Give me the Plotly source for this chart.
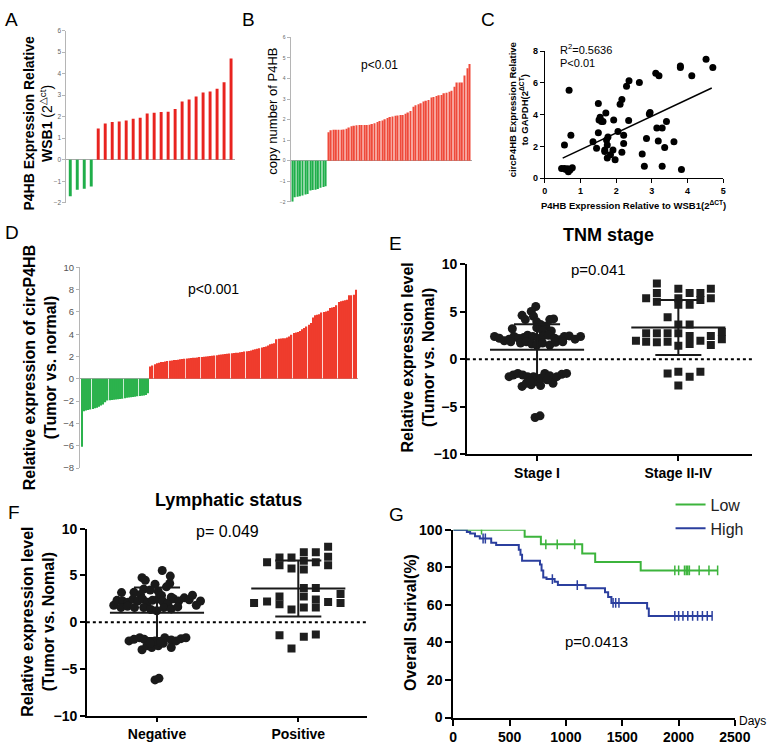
import numpy as np
import plotly.graph_objects as go

W, H = 784, 752
FONT = "Liberation Sans, Arial, Helvetica, sans-serif"
RED_A = "#e8231f"
RED_B = "#ef4a3a"
RED_D = "#ef3b2c"
GREEN_A = "#1fae4a"
GREEN_D = "#2bb24c"
KM_GREEN = "#3cb43c"
KM_BLUE = "#2b3f9e"

# ---------------- Panel A ----------------
a_green = [-1.7, -1.4, -1.35, -1.25]
a_red = [1.45, 1.68, 1.75, 1.77, 1.82, 1.9, 1.95, 2.15, 2.18, 2.22, 2.23, 2.35,
         2.7, 2.8, 2.93, 3.12, 3.17, 3.3, 3.6, 4.7]
a_yticks = [-2, -1, 0, 1, 2, 3, 4, 5, 6]

# ---------------- Panel B ----------------
b_green = [-2.0, -1.78, -1.75, -1.73, -1.7, -1.65, -1.62, -1.45, -1.43, -1.42,
           -1.38, -1.32, -1.28, -1.25]
b_red = [1.38, 1.48, 1.5, 1.5, 1.5, 1.5, 1.52, 1.55, 1.62, 1.68, 1.7, 1.72, 1.73,
         1.73, 1.73, 1.74, 1.75, 1.78, 1.82, 1.88, 1.93, 1.95, 2.02, 2.08, 2.12,
         2.15, 2.18, 2.2, 2.22, 2.22, 2.28, 2.35, 2.42, 2.62, 2.7, 2.75, 2.8, 2.88,
         2.92, 2.95, 3.08, 3.1, 3.15, 3.18, 3.2, 3.28, 3.3, 3.35, 3.4, 3.6, 3.8,
         3.8, 3.8, 4.15, 4.5, 4.7]
b_yticks = [-2, -1, 0, 1, 2, 3, 4, 5, 6]

# ---------------- Panel C ----------------
c_x = [0.47, 0.55, 0.59, 0.64, 0.66, 0.71, 0.77, 0.55, 0.68, 0.73, 1.35, 1.45,
       1.50, 1.50, 1.52, 1.55, 1.59, 1.63, 1.68, 1.68, 1.71, 1.73, 1.75, 1.77,
       1.75, 1.84, 1.91, 1.93, 1.97, 2.05, 2.11, 2.16, 2.16, 2.21, 2.21, 2.29,
       2.36, 2.35, 2.65, 2.73, 2.79, 2.85, 2.93, 2.95, 3.11, 3.20, 3.14, 3.18,
       3.29, 3.29, 3.36, 3.41, 3.62, 3.80, 3.80, 3.83, 4.12, 4.52, 4.71]
c_y = [0.62, 0.62, 0.55, 0.60, 0.41, 0.53, 0.66, 2.09, 5.54, 2.71, 2.30, 1.89,
       4.70, 2.87, 3.67, 3.84, 3.57, 3.57, 1.78, 1.68, 4.10, 2.40, 2.09, 2.60,
       1.27, 1.48, 1.78, 3.67, 1.17, 2.95, 4.66, 4.96, 1.64, 2.71, 2.19, 5.78,
       6.13, 3.63, 6.03, 1.52, 0.76, 2.50, 4.04, 4.14, 6.60, 6.44, 3.16, 2.34,
       3.16, 0.76, 1.93, 3.57, 2.30, 6.97, 7.06, 0.55, 6.44, 7.49, 6.97]
# regression line parameters (slope, intercept, x-span)
c_fit_slope = 1.055
c_fit_intercept = 0.74
c_fit_span = [0.5, 4.68]
c_xticks = [0, 1, 2, 3, 4, 5]
c_yticks = [0, 2, 4, 6, 8]

# ---------------- Panel D ----------------
d_green = [-6.1, -2.9, -2.85, -2.8, -2.75, -2.7, -2.65, -2.6, -2.5, -2.4, -2.3,
           -2.1, -1.95, -1.92, -1.9, -1.88, -1.85, -1.83, -1.8, -1.78, -1.75,
           -1.7, -1.68, -1.65, -1.62, -1.6, -1.57, -1.55, -1.52, -1.5, -1.45, -1.3]
d_red = [1.1, 1.2, 1.3, 1.4, 1.45, 1.5, 1.52, 1.55, 1.6, 1.62, 1.65, 1.68, 1.7,
         1.72, 1.75, 1.78, 1.8, 1.82, 1.85, 1.87, 1.9, 1.9, 1.92, 1.95, 1.95,
         1.97, 2.0, 2.02, 2.05, 2.08, 2.1, 2.12, 2.15, 2.18, 2.2, 2.22, 2.25,
         2.28, 2.3, 2.32, 2.33, 2.35, 2.38, 2.4, 2.45, 2.48, 2.5, 2.55, 2.6,
         2.65, 2.7, 2.75, 2.8, 2.85, 2.9, 3.0, 3.1, 3.15, 3.2, 3.55, 3.6, 3.62,
         3.65, 3.65, 3.7, 3.8, 3.95, 4.1, 4.15, 4.2, 4.3, 4.45, 4.55, 4.7, 4.85,
         5.0, 5.5, 5.7, 5.75, 5.8, 5.95, 6.0, 6.05, 6.1, 6.35, 6.4, 6.45, 6.6,
         6.9, 6.95, 7.0, 7.05, 7.1, 7.5, 7.5, 7.55, 8.0]
d_yticks = [-8, -6, -4, -2, 0, 2, 4, 6, 8, 10]

# ---------------- Panel E (TNM stage) ----------------
e_categories = ["Stage I", "Stage II-IV"]
e1_off = [-0.009, -0.041, -0.106, -0.025, -0.083, 0.090, 0.117, -0.002, 0.025,
          0.062, -0.175, -0.002, 0.039, 0.101,
          -0.301, -0.267, -0.232, -0.198, -0.163, -0.129, -0.094, -0.067, -0.030,
          0.009, 0.044, 0.080, 0.124, 0.159, 0.193, 0.228, 0.269, 0.308,
          -0.117, -0.076, -0.037, -0.002, 0.039, 0.090, 0.131, -0.186, 0.182,
          -0.198, -0.168, -0.136, -0.101, -0.067, -0.106, -0.076, -0.041, -0.007,
          0.025, 0.055, 0.090, 0.113, 0.140, 0.175, 0.209, -0.025, 0.025, -0.048,
          0.071, -0.014, 0.021]
e1_val = [5.57, 5.05, 4.64, 4.54, 4.19, 4.19, 4.26, 3.95, 3.68, 3.50, 3.23, 3.33,
          2.99, 2.99,
          2.41, 2.23, 1.96, 2.13, 2.41, 2.20, 2.30, 2.54, 2.41, 2.20, 2.47, 2.54,
          2.23, 2.06, 2.41, 2.47, 2.13, 2.41,
          1.72, 1.86, 1.62, 1.51, 1.72, 1.51, 1.79, 1.86, 1.86,
          -1.82, -1.65, -1.48, -1.65, -1.82, -2.85, -2.51, -2.68, -2.34, -2.75,
          -1.48, -1.72, -2.51, -1.82, -1.58, -1.48, -1.82, -1.99, -2.27, -2.16,
          -6.12, -5.95]
e2_off = [-0.152, 0.0, 0.230, -0.152, 0.080, 0.156, -0.228, -0.152, 0.0, 0.156,
          0.230, 0.0, 0.080, -0.076, 0.0, 0.080, -0.300, -0.228, -0.228, -0.152,
          -0.152, -0.076, -0.076, 0.0, 0.0, 0.080, 0.080, 0.156, 0.230, 0.230,
          0.308, 0.308, -0.076, 0.0, 0.080, 0.156, 0.0]
e2_val = [8.0, 7.45, 7.45, 7.0, 7.0, 7.0, 6.43, 6.08, 6.43, 6.25, 6.43, 5.74,
          5.74, 4.43, 3.68, 3.68, 1.96, 2.75, 1.86, 2.75, 1.79, 2.75, 1.86, 2.75,
          1.44, 2.47, 1.62, 1.96, 2.47, 1.51, 2.89, 2.13, -1.48, -1.3, -1.82, -1.3,
          -2.75]
e_mean = [1.0, 3.35]
e_sd = [2.7, 2.9]
e_yticks = [-10, -5, 0, 5, 10]

# ---------------- Panel F (Lymphatic status) ----------------
f_categories = ["Negative", "Positive"]
f1_off = [0.037, 0.094, -0.106, -0.083, 0.090, -0.014, 0.067, -0.094, -0.048,
          0.009, -0.251, -0.163, -0.117, 0.032, 0.101,
          -0.306, -0.283, -0.244, -0.205, -0.170, -0.136, -0.101, -0.067, -0.032,
          0.005, 0.039, 0.078, 0.117, 0.154, 0.193, 0.228, 0.251, 0.278, 0.308,
          -0.255, -0.209, -0.159, -0.094, -0.044, -0.002, 0.048, 0.101, 0.147,
          -0.198, -0.163, -0.122, -0.090, -0.106, -0.071, -0.037, 0.009, 0.044,
          0.055, 0.101, 0.101, 0.136, 0.170, 0.205, -0.014, 0.025, -0.048,
          -0.014, 0.014]
f1_val = [5.52, 4.93, 4.76, 4.48, 4.13, 4.06, 3.78, 3.54, 3.44, 3.30, 3.16, 3.19,
          2.95, 2.85, 2.67,
          1.81, 2.33, 2.26, 2.12, 2.47, 2.26, 2.47, 2.12, 2.33, 2.47, 2.26, 2.05,
          2.50, 2.26, 2.60, 2.40, 2.88, 1.81, 2.26,
          1.56, 1.70, 1.56, 1.56, 1.35, 1.22, 1.56, 1.42, 1.63,
          -2.01, -1.84, -1.67, -1.84, -2.95, -2.53, -2.71, -2.53, -2.26, -1.67,
          -1.91, -2.71, -2.01, -1.77, -1.67, -2.01, -2.12, -2.26,
          -6.18, -6.01]
f2_off = [0.211, 0.039, 0.124, 0.211, -0.133, -0.048, -0.221, 0.039, 0.124,
          -0.133, -0.048, 0.039, 0.211, 0.039, 0.124, -0.313, -0.221, -0.133,
          -0.133, -0.048, 0.039, 0.039, 0.124, 0.124, 0.211, 0.299, 0.299,
          -0.133, 0.039, 0.124, -0.048]
f2_val = [8.06, 7.47, 7.47, 7.01, 6.91, 6.91, 6.42, 6.56, 6.42, 6.08, 5.73, 5.63,
          6.08, 3.65, 3.65, 2.05, 2.22, 2.74, 1.91, 1.35, 2.74, 1.56, 2.43, 1.56,
          2.15, 3.02, 2.05, -1.39, -1.56, -1.32, -2.81]
f_mean = [1.0, 3.6]
f_sd = [2.7, 3.0]

# ---------------- Panel G (Kaplan-Meier) ----------------
low_t = [0, 634, 778, 1145, 1260, 1664, 2347]
low_s = [100, 96.2, 92.2, 87.3, 82.8, 78.3, 78.3]
low_cens = [251, 822, 923, 1078, 1967, 2001, 2053, 2068, 2082, 2096, 2183, 2270, 2347]
high_t = [0, 121, 150, 193, 236, 337, 381, 582, 597, 611, 770, 784, 799, 828, 900,
          929, 1174, 1347, 1375, 1404, 1721, 1736, 2298]
high_s = [100, 98.8, 97.9, 96.5, 95.3, 93.1, 91.9, 89.3, 86.6, 83.5, 81.5, 78.3,
          74.5, 73.7, 72.3, 70.5, 68.8, 66.7, 64.1, 61.0, 58.1, 54.1, 54.1]
high_cens = [265, 285, 880, 1101, 1419, 1442, 1471, 1967, 2001, 2039, 2082, 2125,
             2169, 2212, 2255, 2298]
g_xticks = [0, 500, 1000, 1500, 2000, 2500]
g_yticks = [0, 20, 40, 60, 80, 100]


# ================= helpers =================
def xdom(a, b):
    return [a / W, b / W]


def ydom(top, bottom):
    return [1 - bottom / H, 1 - top / H]


def bar_range(n, first_px, last_px, lo_px, hi_px):
    ppi = (last_px - first_px) / (n - 1)
    return [-(first_px - lo_px) / ppi, (n - 1) + (hi_px - last_px) / ppi]


def cat_range(c1_px, c2_px, lo_px, hi_px):
    ppu = c2_px - c1_px
    return [1 - (c1_px - lo_px) / ppu, 2 + (hi_px - c2_px) / ppu]


fig = go.Figure()


def add_bars(green, red, xa, ya, gcol, rcol, width):
    ng = len(green)
    fig.add_trace(go.Bar(x=list(range(ng)), y=green, marker=dict(color=gcol, line=dict(width=0)),
                         width=width, xaxis=xa, yaxis=ya, showlegend=False, hoverinfo="skip"))
    fig.add_trace(go.Bar(x=list(range(ng, ng + len(red))), y=red,
                         marker=dict(color=rcol, line=dict(width=0)),
                         width=width, xaxis=xa, yaxis=ya, showlegend=False, hoverinfo="skip"))


add_bars(a_green, a_red, "x", "y", GREEN_A, RED_A, 0.42)
add_bars(b_green, b_red, "x2", "y2", GREEN_A, RED_B, 0.55)
add_bars(d_green, d_red, "x4", "y4", GREEN_D, RED_D, 0.6)

# Panel C scatter + regression
fig.add_trace(go.Scatter(x=c_x, y=c_y, mode="markers", marker=dict(size=7, color="black"),
                         xaxis="x3", yaxis="y3", showlegend=False, hoverinfo="skip"))
fx = np.array(c_fit_span)
fig.add_trace(go.Scatter(x=fx, y=c_fit_slope * fx + c_fit_intercept, mode="lines",
                         line=dict(color="black", width=1.5), xaxis="x3", yaxis="y3",
                         showlegend=False, hoverinfo="skip"))


def add_dotplot(off1, val1, off2, val2, means, sds, xa, ya):
    fig.add_trace(go.Scatter(x=[1 + o for o in off1], y=val1, mode="markers",
                             marker=dict(size=9, color="#1a1a1a", symbol="circle"),
                             xaxis=xa, yaxis=ya, showlegend=False, hoverinfo="skip"))
    fig.add_trace(go.Scatter(x=[2 + o for o in off2], y=val2, mode="markers",
                             marker=dict(size=8, color="#1e1e1e", symbol="square"),
                             xaxis=xa, yaxis=ya, showlegend=False, hoverinfo="skip"))
    xs, ys = [], []
    hm, hc = 0.333, 0.163
    for c, m, s in zip([1, 2], means, sds):
        xs += [c - hm, c + hm, None, c, c, None, c - hc, c + hc, None, c - hc, c + hc, None]
        ys += [m, m, None, m - s, m + s, None, m + s, m + s, None, m - s, m - s, None]
    fig.add_trace(go.Scatter(x=xs, y=ys, mode="lines", line=dict(color="#1a1a1a", width=2),
                             xaxis=xa, yaxis=ya, showlegend=False, hoverinfo="skip"))


add_dotplot(e1_off, e1_val, e2_off, e2_val, e_mean, e_sd, "x5", "y5")
add_dotplot(f1_off, f1_val, f2_off, f2_val, f_mean, f_sd, "x6", "y6")


# Panel G KM
def step_at(t, s, q):
    idx = np.searchsorted(np.array(t), np.array(q), side="right") - 1
    return [s[i] for i in idx]


fig.add_trace(go.Scatter(x=low_t, y=low_s, mode="lines", line=dict(color=KM_GREEN, width=2, shape="hv"),
                         name="Low", xaxis="x7", yaxis="y7", hoverinfo="skip"))
fig.add_trace(go.Scatter(x=high_t, y=high_s, mode="lines", line=dict(color=KM_BLUE, width=2, shape="hv"),
                         name="High", xaxis="x7", yaxis="y7", hoverinfo="skip"))
fig.add_trace(go.Scatter(x=low_cens, y=step_at(low_t, low_s, low_cens), mode="markers",
                         marker=dict(symbol="line-ns", size=7, line=dict(color=KM_GREEN, width=1.5)),
                         xaxis="x7", yaxis="y7", showlegend=False, hoverinfo="skip"))
fig.add_trace(go.Scatter(x=high_cens, y=step_at(high_t, high_s, high_cens), mode="markers",
                         marker=dict(symbol="line-ns", size=7, line=dict(color=KM_BLUE, width=1.5)),
                         xaxis="x7", yaxis="y7", showlegend=False, hoverinfo="skip"))

# ================= axes =================
bar_x = dict(visible=False, showticklabels=False, ticks="", showline=False, showgrid=False, zeroline=False)


def excel_y(fsize, col="#666666"):
    return dict(showline=True, linecolor="#b5b5b5", linewidth=1, ticks="outside", ticklen=3,
                tickcolor="#b5b5b5", tickwidth=1, tickfont=dict(size=fsize, color=col, family=FONT),
                showgrid=False, zeroline=True, zerolinecolor="#a8a8a8", zerolinewidth=1)


def prism(fsize=14, lw=1.5, tl=5):
    return dict(showline=True, linecolor="black", linewidth=lw, ticks="outside", ticklen=tl,
                tickwidth=lw, tickcolor="black",
                tickfont=dict(size=fsize, color="black", family=FONT, weight="bold"),
                showgrid=False, zeroline=False)


fig.update_layout(
    xaxis=dict(domain=xdom(64, 237), range=bar_range(24, 68, 233, 64, 237), anchor="y", **bar_x),
    yaxis=dict(domain=ydom(23, 199), range=[-2, 6], tickvals=a_yticks, anchor="x", **excel_y(6.5)),
    xaxis2=dict(domain=xdom(294, 480), range=bar_range(70, 296, 478, 294, 480), anchor="y2", **bar_x),
    yaxis2=dict(domain=ydom(30, 198), range=[-2, 6], tickvals=b_yticks, anchor="x2", **excel_y(5)),
    xaxis3=dict(domain=xdom(555, 738), range=[0, 5], tickvals=c_xticks, anchor="y3", **prism(9, 1.3, 4)),
    yaxis3=dict(domain=ydom(44, 174), range=[0, 8], tickvals=c_yticks, anchor="x3", **prism(9, 1.3, 4)),
    xaxis4=dict(domain=xdom(78, 363), range=bar_range(129, 80, 361, 78, 363), anchor="y4", **bar_x),
    yaxis4=dict(domain=ydom(265, 470), range=[-8, 10], tickvals=d_yticks, anchor="x4", **excel_y(9.5, "#555555")),
    xaxis5=dict(domain=xdom(475, 768), range=cat_range(547, 692, 475, 768), tickvals=[1, 2],
                ticktext=e_categories, anchor="y5", **prism()),
    yaxis5=dict(domain=ydom(262, 456), range=[-10, 10], tickvals=e_yticks, anchor="x5", **prism()),
    xaxis6=dict(domain=xdom(85, 373), range=cat_range(157, 302, 85, 373), tickvals=[1, 2],
                ticktext=f_categories, anchor="y6", **prism()),
    yaxis6=dict(domain=ydom(532, 723), range=[-10, 10], tickvals=e_yticks, anchor="x6", **prism()),
    xaxis7=dict(domain=xdom(461, 750), range=[0, 2500], tickvals=g_xticks, anchor="y7", **prism(14, 2, 6)),
    yaxis7=dict(domain=ydom(533, 725), range=[0, 100], tickvals=g_yticks, anchor="x7", **prism(14, 2, 6)),
)

for xr in ["x5", "x6"]:
    yr = xr.replace("x", "y")
    fig.add_shape(type="line", xref=xr + " domain", yref=yr, x0=0, x1=1, y0=0, y1=0,
                  line=dict(color="black", width=2, dash="dot"), layer="below")


# ================= text =================
def ann(text, x, y, size, bold=False, angle=0, color="black", xanchor="center", yanchor="middle"):
    fig.add_annotation(text=text, x=x / W, y=1 - y / H, xref="paper", yref="paper", showarrow=False,
                       textangle=angle, xanchor=xanchor, yanchor=yanchor,
                       font=dict(size=size, color=color, family=FONT, weight="bold" if bold else "normal"))


for letter, x, y in [("A", 8, 12), ("B", 251, 12), ("C", 497, 12), ("D", 8, 229),
                     ("E", 402, 241), ("F", 10, 515), ("G", 403, 518)]:
    ann(letter, x, y, 19)

ann("<b>P4HB Expression Relative</b><br><b>WSB1</b> (2<sup>△ct</sup>)", 35, 118, 14, angle=-90)
ann("copy number of P4HB", 276, 105, 13, angle=-90)
ann("p<0.01", 385, 58, 12)
ann("R<sup>2</sup>=0.5636", 568, 42, 11, xanchor="left")
ann("P<0.01", 569, 56, 11, xanchor="left")
ann("P4HB Expression Relative to WSB1(2<sup>ΔCT</sup>)", 646, 201, 9.5, bold=True)
ann("circP4HB Expression Relative<br>to GAPDH(2<sup>ΔCT</sup>)", 528, 104, 9.5, bold=True, angle=-90)
ann("Relative expression of circP4HB<br>(Tumor vs. normal)", 37, 368, 16, bold=True, angle=-90)
ann("p<0.001", 215, 287, 14)
ann("TNM stage", 620, 232, 18, bold=True)
ann("p=0.041", 610, 267, 15)
ann("Relative expression level<br>(Tumor vs. Nomal)", 425, 357, 16, bold=True, angle=-90)
ann("Lymphatic status", 230, 503, 18, bold=True)
ann("p= 0.049", 229, 535, 16)
ann("Relative expression level<br>(Tumor vs. Nomal)", 35, 627, 16, bold=True, angle=-90)
ann("Overall Surival(%)", 417, 628, 16, bold=True, angle=-90)
ann("p=0.0413", 608, 647, 15)
ann("Days", 768, 728, 12)

fig.update_layout(
    width=W, height=H, margin=dict(l=0, r=0, t=0, b=0),
    paper_bgcolor="white", plot_bgcolor="white", barmode="overlay",
    showlegend=True,
    legend=dict(x=684 / W, y=1 - 490 / H, xanchor="left", yanchor="top",
                font=dict(size=16, color="#222222", family=FONT),
                bgcolor="rgba(0,0,0,0)", tracegroupgap=0, itemwidth=30),
)

fig.write_html("out.html", config={"displayModeBar": False},
               post_script="document.body.style.margin='0px';")
